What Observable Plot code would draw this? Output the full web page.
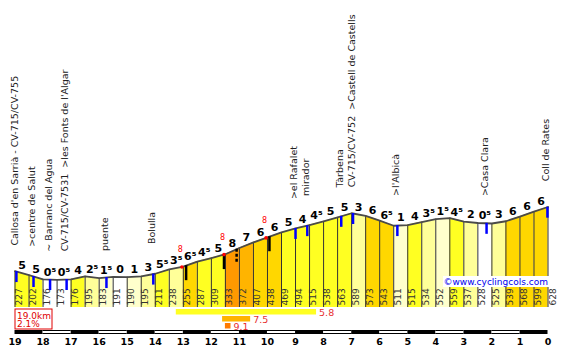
<!DOCTYPE html>
<html><head><meta charset="utf-8">
<script src="https://cdn.jsdelivr.net/npm/d3@7"></script>
<script src="https://cdn.jsdelivr.net/npm/@observablehq/plot@0.6"></script>
<style>body{margin:0;background:#fff}#chart svg{display:block}</style>
</head><body><div id="chart"></div>
<script>
// ---- data ----
const altitudes = [227,202,176,173,176,195,183,191,190,195,211,238,255,287,309,333,372,407,438,469,494,515,538,563,589,573,543,511,515,534,552,559,537,528,525,539,568,599,628];
const gradients = [5,5,0.5,0.5,4,2.5,1.5,0,1,3,5.5,3.5,6.5,4.5,5,8,7,6,6,5,4,4.5,5,5,3,6,6.5,1,4,3.5,1.5,4.5,2,0.5,3,6,6,6];
const startKm = 19, stepKm = 0.5;
const placeNames = ["Callosa d'en Sarrià - CV-715/CV-755", ">centre de Salut", "~ Barranc del Agua", "CV-715/CV-7531  >les Fonts de l'Algar", "puente", "Bolulla", ">el Rafalet", "mirador", "Tàrbena", "CV-715/CV-752  >Castell de Castells", ">l'Albicà", ">Casa Clara", "Coll de Rates"];
const placeKm = [18.95, 18.34, 17.75, 17.16, 15.74, 14.07, 9.0, 8.58, 7.37, 6.95, 5.37, 2.19, 0.02];
const kmTicks = [19,18,17,16,15,14,13,12,11,10,9,8,7,6,5,4,3,2,1,0];
const steepFrom = [13.25, 11.6, 11.5];
const steepTo = [8.25, 10.6, 11.3];
const steepGrade = [5.8, 7.5, 9.1];
const peakKm = [13.05, 11.55, 10.05];
const peakGrade = [8, 8, 8];
const blackMarkKm = [12.9, 11.55, 9.93];
const dashedMarkKm = [11.1];
const watermark = "©www.cyclingcols.com";

// ---- layout helpers ----
const W = 562, H = 347, mL = 14.5, mR = 14.5, baseY = 307, mT = 7, yMax = 1875;
const pxPerKm = (W - mL - mR) / startKm;
const pxPerM = (baseY - mT) / yMax;
const yPx = p => (baseY - p) / pxPerM;          // pixel row -> altitude units
const xPx = p => startKm - (p - mL) / pxPerKm;   // pixel col -> km
const kmOf = i => startKm - i * stepKm;
function altAt(km) {
  const f = (startKm - km) / stepKm;
  const i = Math.max(0, Math.min(Math.floor(f), altitudes.length - 2));
  const t = f - i;
  return altitudes[i] + t * (altitudes[i + 1] - altitudes[i]);
}
function gradeColor(g) {
  if (g <= 0.5) return "#ffffff";
  if (g < 2) return "#ffffcc";
  if (g < 4) return "#ffff99";
  if (g < 6) return "#ffff22";
  if (g < 7) return "#ffd700";
  if (g < 8) return "#ffb400";
  if (g < 9) return "#ff9900";
  return "#ff7a00";
}
const fmtGrade = g => (g % 1 ? Math.floor(g) + "⁵" : String(g));
function labelBase(km) {
  let m = 0;
  for (let k = km - 0.5; k <= km + 0.5; k += 0.05) {
    if (k >= 0 && k <= startKm) m = Math.max(m, altAt(k));
  }
  return m + 26 / pxPerM;
}

const segs = [];
gradients.forEach((g, i) => {
  segs.push({seg: i, km: kmOf(i), alt: altitudes[i], g});
  segs.push({seg: i, km: kmOf(i + 1), alt: altitudes[i + 1], g});
});
const profile = altitudes.map((a, i) => ({km: kmOf(i), alt: a}));
const totalKm = startKm;
const avg = (altitudes[altitudes.length - 1] - altitudes[0]) / (totalKm * 1000) * 100;

const chart = Plot.plot({
  width: W, height: H,
  marginLeft: mL, marginRight: mR, marginTop: mT, marginBottom: H - baseY,
  x: {domain: [startKm, 0], axis: null},
  y: {domain: [0, yMax], axis: null},
  color: {type: "identity"},
  style: {fontFamily: "'DejaVu Sans', Verdana, sans-serif", background: "white", overflow: "visible"},
  marks: [
    Plot.areaY(segs, {x: "km", y1: 0, y2: "alt", z: "seg", fill: d => gradeColor(d.g)}),
    Plot.ruleX(profile, {x: "km", y1: 0, y2: "alt", stroke: "#333", strokeWidth: 1}),
    Plot.line(profile, {x: "km", y: "alt", stroke: "#4a4a4a", strokeWidth: 1.8}),
    // altitude labels in columns
    Plot.text(altitudes.slice(0, -1), {x: (d, i) => kmOf(i) - stepKm / 2, y: yPx(305), text: d => String(d), rotate: -90, textAnchor: "start", lineAnchor: "middle", dx: -3, fontSize: 9, fill: "#333"}),
    Plot.text([altitudes[altitudes.length - 1]], {x: 0, y: yPx(305), text: d => String(d), rotate: -90, textAnchor: "start", lineAnchor: "middle", dx: 5, fontSize: 9, fill: "#333"}),
    // watermark
    Plot.rect([0], {x1: xPx(443), x2: xPx(550), y1: yPx(287), y2: yPx(276), fill: "white"}),
    Plot.text([watermark], {x: xPx(443), y: yPx(284.5), text: d => d, textAnchor: "start", lineAnchor: "bottom", fontSize: 9, fill: "#0000ee", ariaLabel: "watermark"}),
    // markers
    Plot.ruleX(blackMarkKm, {x: d => d, y1: d => altAt(d), y2: d => altAt(d) - 15 / pxPerM, stroke: "black", strokeWidth: 2.5}),
    Plot.ruleX(dashedMarkKm, {x: d => d, y1: d => altAt(d), y2: d => altAt(d) - 15 / pxPerM, stroke: "black", strokeWidth: 2.5, strokeDasharray: "3,2"}),
    Plot.ruleX(placeKm, {x: d => d, y1: d => altAt(d), y2: d => altAt(d) - 11 / pxPerM, stroke: "#0000ff", strokeWidth: 2.5}),
    Plot.dot(peakKm, {x: d => d, y: d => altAt(d), r: 1.8, fill: "red", stroke: null}),
    Plot.text(peakKm, {x: d => d, y: d => altAt(d), text: (d, i) => String(peakGrade[i]), dy: -15, dx: -1.5, lineAnchor: "bottom", fontSize: 8, fill: "red"}),
    // gradient labels
    Plot.text(gradients, {x: (d, i) => kmOf(i) - stepKm / 2, y: (d, i) => (altitudes[i] + altitudes[i + 1]) / 2, text: fmtGrade, lineAnchor: "bottom", dy: -4, fontSize: 11, fontWeight: "bold", fill: "black"}),
    // place names
    Plot.text(placeNames, {x: (d, i) => placeKm[i], y: (d, i) => labelBase(placeKm[i]), text: d => d, rotate: -90, textAnchor: "start", lineAnchor: "middle", dx: -1.5, fontSize: 9.5, fill: "#222"}),
    // steepest sections
    Plot.rect(steepGrade, {x1: (d, i) => steepFrom[i], x2: (d, i) => steepTo[i], y1: (d, i) => yPx(309 + 7 * i + 5.5), y2: (d, i) => yPx(309 + 7 * i), fill: d => gradeColor(d)}),
    Plot.text(steepGrade, {x: (d, i) => steepTo[i], y: (d, i) => yPx(315 + 7 * i), text: d => d.toFixed(1), textAnchor: "start", lineAnchor: "bottom", dx: 2.5, fontSize: 9.5, fill: "#e83030"}),
    // summary box
    Plot.rect([0], {x1: xPx(15), x2: xPx(52), y1: yPx(329), y2: yPx(309), fill: "white", stroke: "#e00000", strokeWidth: 1}),
    Plot.text([totalKm.toFixed(1) + "km"], {x: xPx(16.5), y: yPx(318), text: d => d, textAnchor: "start", lineAnchor: "bottom", fontSize: 9, fill: "#e00000"}),
    Plot.text([avg.toFixed(1) + "%"], {x: xPx(16.5), y: yPx(326.8), text: d => d, textAnchor: "start", lineAnchor: "bottom", fontSize: 9, fill: "#e00000"}),
    // km scale bar
    Plot.rect(kmTicks.slice(0, -1), {x1: d => d, x2: d => d - 1, y1: yPx(334), y2: yPx(330), fill: "black"}),
    Plot.rect(kmTicks.slice(0, -1).filter((d, i) => i % 2 === 1), {x1: d => d, x2: d => d - 1, y1: yPx(333), y2: yPx(331), fill: "white"}),
    Plot.text(kmTicks, {x: d => d, y: yPx(344.5), text: d => String(d), lineAnchor: "bottom", fontSize: 9.5, fontWeight: "bold", fill: "black"})
  ]
});
document.getElementById("chart").appendChild(chart);
d3.select(chart).select('g[aria-label="watermark"]').style("text-decoration", "underline");
</script>
</body></html>
